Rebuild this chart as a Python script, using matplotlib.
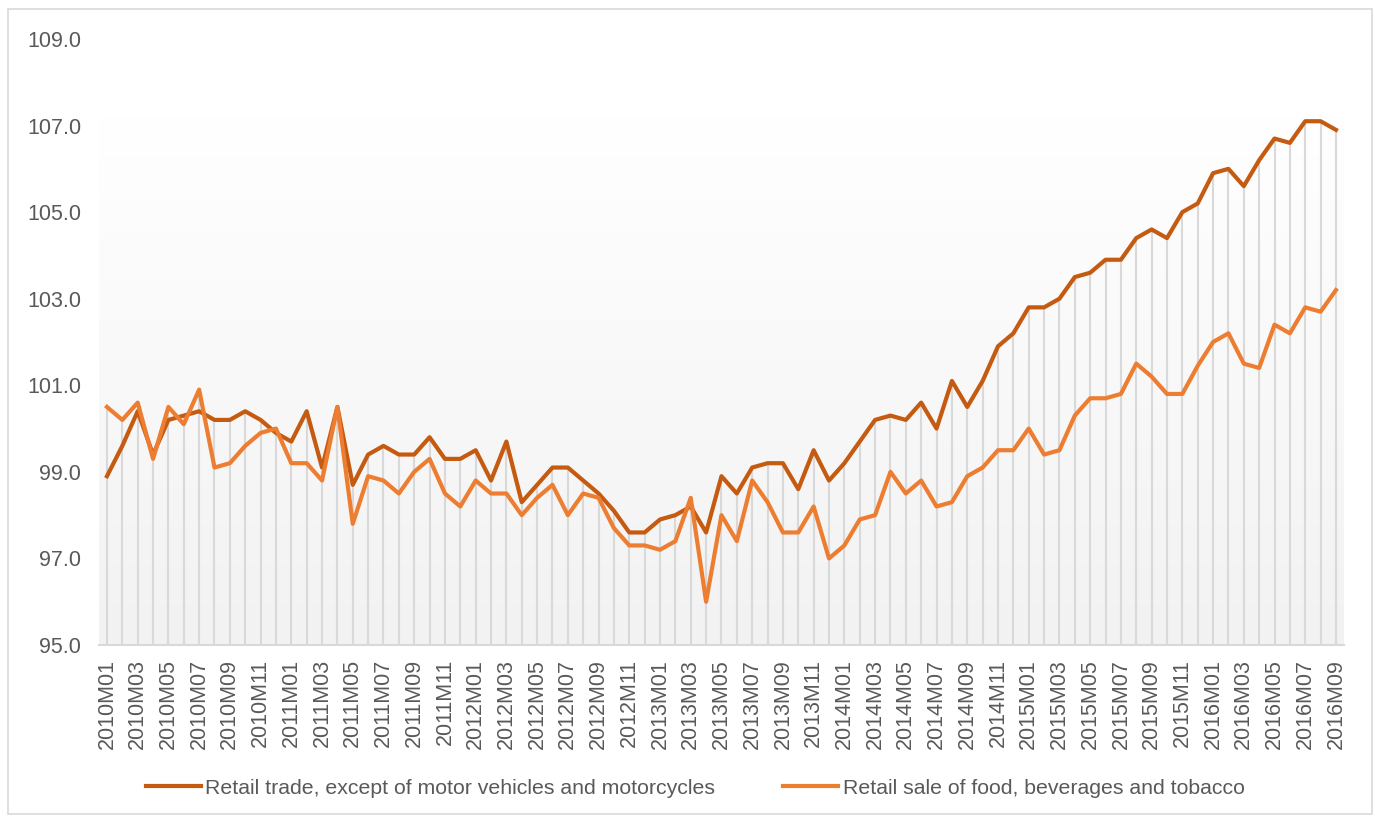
import numpy as np
import matplotlib.pyplot as plt
from matplotlib.patches import Rectangle
from matplotlib.colors import LinearSegmentedColormap

plt.rcParams['font.family'] = ['Liberation Sans', 'DejaVu Sans']

# Monthly periods 2010M01 .. 2016M09
months = [f"{y}M{m:02d}" for y in range(2010, 2017) for m in range(1, 13)][:81]

retail_trade = [
    98.9, 99.6, 100.4, 99.4, 100.2, 100.3, 100.4, 100.2, 100.2, 100.4,
    100.2, 99.9, 99.7, 100.4, 99.1, 100.5, 98.7, 99.4, 99.6, 99.4,
    99.4, 99.8, 99.3, 99.3, 99.5, 98.8, 99.7, 98.3, 98.7, 99.1,
    99.1, 98.8, 98.5, 98.1, 97.6, 97.6, 97.9, 98.0, 98.2, 97.6,
    98.9, 98.5, 99.1, 99.2, 99.2, 98.6, 99.5, 98.8, 99.2, 99.7,
    100.2, 100.3, 100.2, 100.6, 100.0, 101.1, 100.5, 101.1, 101.9, 102.2,
    102.8, 102.8, 103.0, 103.5, 103.6, 103.9, 103.9, 104.4, 104.6, 104.4,
    105.0, 105.2, 105.9, 106.0, 105.6, 106.2, 106.7, 106.6, 107.1, 107.1, 106.9,
]
food_bev_tobacco = [
    100.5, 100.2, 100.6, 99.3, 100.5, 100.1, 100.9, 99.1, 99.2, 99.6,
    99.9, 100.0, 99.2, 99.2, 98.8, 100.5, 97.8, 98.9, 98.8, 98.5,
    99.0, 99.3, 98.5, 98.2, 98.8, 98.5, 98.5, 98.0, 98.4, 98.7,
    98.0, 98.5, 98.4, 97.7, 97.3, 97.3, 97.2, 97.4, 98.4, 96.0,
    98.0, 97.4, 98.8, 98.3, 97.6, 97.6, 98.2, 97.0, 97.3, 97.9,
    98.0, 99.0, 98.5, 98.8, 98.2, 98.3, 98.9, 99.1, 99.5, 99.5,
    100.0, 99.4, 99.5, 100.3, 100.7, 100.7, 100.8, 101.5, 101.2, 100.8,
    100.8, 101.45, 102.0, 102.2, 101.5, 101.4, 102.4, 102.2, 102.8, 102.7, 103.2,
]
series_names = ["Retail trade, except of motor vehicles and motorcycles",
                "Retail sale of food, beverages and tobacco"]
y_ticks = [95.0, 97.0, 99.0, 101.0, 103.0, 105.0, 107.0, 109.0]

text_col = '#595959'
fs = 15.5
x = np.arange(len(months))
top = np.maximum(retail_trade, food_bev_tobacco)

fig = plt.figure(figsize=(13.75, 8.17), dpi=100)
ax = fig.add_axes([0.0722, 0.2105, 0.905, 0.7418])

# light border round the whole chart
fig.patches.append(Rectangle((0.0058, 0.004), 0.992, 0.985, transform=fig.transFigure,
                             fill=False, edgecolor='#d9d9d9', linewidth=1.2))

# gradient in the plotted region, white at top to light gray at bottom
cmap = LinearSegmentedColormap.from_list('g', ['#f2f2f2', '#ffffff'])
grad = np.linspace(0, 1, 256).reshape(-1, 1)
ax.imshow(grad, cmap=cmap, aspect='auto', origin='lower',
          extent=(-0.5, len(months) - 0.5, 95.0, 107.2), zorder=0)

# drop lines
ax.vlines(x, 95.0, top, color='#d9d9d9', linewidth=1.5, zorder=1)

ax.plot(x, retail_trade, color='#c55a11', linewidth=3, label=series_names[0],
        solid_joinstyle='round', zorder=3)
ax.plot(x, food_bev_tobacco, color='#ed7d31', linewidth=3, label=series_names[1],
        solid_joinstyle='round', zorder=3)

ax.set_xlim(-0.5, len(months) - 0.5)
ax.set_ylim(95.0, 109.0)
ax.set_yticks(y_ticks)
ax.set_yticklabels([f"{v:.1f}" for v in y_ticks])
ax.set_xticks(x[::2])
ax.set_xticklabels(months[::2], rotation=90)
ax.tick_params(axis='y', length=0, pad=13, labelsize=fs, labelcolor=text_col)
ax.tick_params(axis='x', length=0, pad=10, labelsize=fs, labelcolor=text_col)

for s in ['top', 'right', 'left']:
    ax.spines[s].set_visible(False)
ax.spines['bottom'].set_color('#d9d9d9')
ax.spines['bottom'].set_linewidth(1.5)
ax.set_facecolor('white')

fig.legend(loc='center', bbox_to_anchor=(0.5055, 0.035), ncol=2, frameon=False,
           fontsize=15.3, labelcolor=text_col, handlelength=2.6, columnspacing=3.2,
           handletextpad=0.2)

fig.savefig('out.png', dpi=100)
